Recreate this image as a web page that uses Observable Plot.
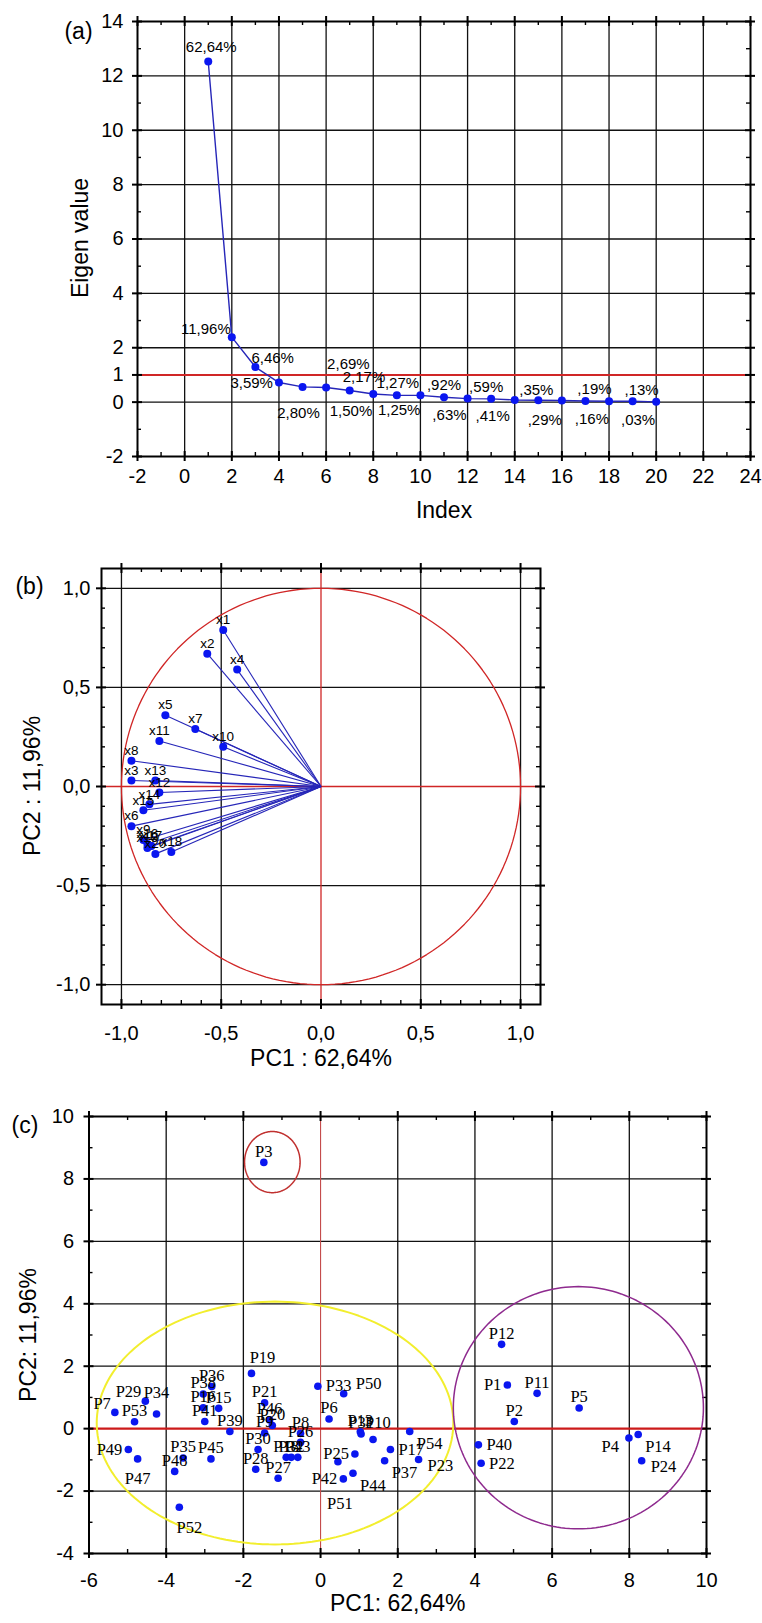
<!DOCTYPE html>
<html><head><meta charset="utf-8">
<script src="https://cdn.jsdelivr.net/npm/d3@7"></script>
<script src="https://cdn.jsdelivr.net/npm/@observablehq/plot@0.6"></script>
<style>
html,body{margin:0;padding:0;background:#fff;}
#wrap{position:relative;width:762px;height:1623px;overflow:hidden;background:#fff;}
</style></head><body><div id="wrap"></div>
<script>
// ================= DATA =================
// (a) scree plot
const componentIndex = [1,2,3,4,5,6,7,8,9,10,11,12,13,14,15,16,17,18,19,20];
const eigenValues = [12.53,2.39,1.29,0.72,0.56,0.54,0.43,0.30,0.25,0.25,0.18,0.13,0.12,0.08,0.07,0.06,0.04,0.03,0.03,0.01];
const varianceLabels = ["62,64%","11,96%","6,46%","3,59%","2,80%","2,69%","2,17%","1,50%","1,27%","1,25%",",92%",",63%",",59%",",41%",",35%",",29%",",19%",",16%",",13%",",03%"];
const screeXTicks = [-2,0,2,4,6,8,10,12,14,16,18,20,22,24];
const screeYTicks = [-2,0,1,2,4,6,8,10,12,14];
const kaiserLevel = [1];

// (b) loading plot
const variableNames = ["x1","x2","x3","x4","x5","x6","x7","x8","x9","x10","x11","x12","x13","x14","x15","x16","x17","x18","x19","x20"];
const loadingPC1 = [-0.49,-0.57,-0.95,-0.42,-0.78,-0.95,-0.63,-0.95,-0.89,-0.49,-0.81,-0.81,-0.83,-0.86,-0.89,-0.87,-0.85,-0.75,-0.87,-0.83];
const loadingPC2 = [0.79,0.67,0.03,0.59,0.36,-0.20,0.29,0.13,-0.27,0.20,0.23,-0.03,0.03,-0.09,-0.12,-0.29,-0.30,-0.33,-0.31,-0.34];
const loadingTicks = [-1,-0.5,0,0.5,1];

// (c) score plot
const sampleNames = ["P1","P2","P3","P4","P5","P6","P7","P8","P9","P10","P11","P12","P13","P14","P15","P16","P17","P18","P19","P20","P21","P22","P23","P24","P25","P26","P27","P28","P29","P30","P31","P32","P33","P34","P35","P36","P37","P38","P39","P40","P41","P42","P43","P44","P45","P46","P47","P48","P49","P50","P51","P52","P53","P54"];
const scorePC1 = [4.84,5.02,-1.47,7.99,6.70,0.22,-5.33,-0.52,-1.45,1.36,5.61,4.69,1.03,8.23,-2.64,-3.04,1.81,-0.89,-1.79,-1.25,-1.45,4.16,2.54,8.32,0.89,-0.52,-1.10,-1.68,-4.54,-1.62,1.05,-0.76,-0.07,-4.25,-3.56,-2.82,1.66,-3.04,-2.35,4.09,-3.00,0.59,-0.59,0.84,-2.84,-1.32,-4.74,-3.78,-4.98,0.60,0.45,-3.66,-4.82,2.31];
const scorePC2 = [1.40,0.23,8.53,-0.30,0.66,0.31,0.52,-0.15,-0.14,-0.35,1.13,2.70,-0.10,-0.19,0.65,0.67,-0.67,-0.92,1.77,0.10,0.83,-1.11,-0.99,-1.03,-0.81,-0.44,-1.59,-1.30,0.88,-0.67,-0.17,-0.92,1.36,0.47,-0.94,1.35,-1.03,1.11,-0.09,-0.52,0.23,-1.61,-0.92,-1.43,-0.97,0.28,-0.97,-1.37,-0.67,1.12,-1.06,-2.52,0.22,-0.09];
const scoreXTicks = [-6,-4,-2,0,2,4,6,8,10];
const scoreYTicks = [-4,-2,0,2,4,6,8,10];
// group ellipses (centre and semi-axes in PC units)
const groupCX = [-1.25,-1.18,6.68];
const groupCY = [8.54,0.18,0.67];
const groupRX = [0.72,4.62,3.24];
const groupRY = [0.98,3.89,3.88];

// ================= LAYOUT / STYLE (kept apart from data) =================
const W = 762;
const SANS = "'Liberation Sans', Arial, Helvetica, sans-serif";
const SERIF = "'Liberation Serif', 'Times New Roman', serif";
const DOT = "#0a16f0";
const LINE = "#2626b8";
const RED = "#d02626";
const GRID = "#111";
const groupColors = ["#c0302f","#f2ee2e","#8e2a8e"];

const screeLabelLayout = [[3,-14,"middle"],[-1,-8,"end"],[-4,-9,"start"],[-6,1,"end"],[-4,26,"middle"],[1,-23,"start"],[-7,-13,"start"],[-1,17,"end"],[1,-12,"middle"],[0,15,"end"],[0,-12,"middle"],[-1,17,"end"],[-5,-12,"middle"],[-5,16,"end"],[-2,-10,"middle"],[0,20,"end"],[9,-12,"middle"],[0,18,"end"],[9,-11,"middle"],[-1,18,"end"]];

const scoreLabelSide = ["W","N","N","SW","N","N","NW","N","N","NE2","N","N","N","SE","N","N","E","N","NNE","N","N","E","ES","ES","W","N","N","N","NW","N","N","N","E","N2","N","N","SE","N","N","E","N","W","N","SE","N","N","S","N","W","NE","S2","SSE","N","SE"];
const sideOffsets = {
  N:[0,-11,"middle"], N2:[0,-21,"middle"], NE:[12,-10,"start"], NE2:[-8,-17,"start"],
  NNE:[11,-16,"middle"], NW:[-4,-9,"end"], W:[-6,0,"end"], E:[8,0,"start"],
  ES:[9,6,"start"], SE:[7,12,"start"], SW:[-10,9,"end"], S:[0,20,"middle"],
  S2:[2,42,"middle"], SSE:[10,20,"middle"]
};

const wrap = document.getElementById("wrap");
function place(svg, top){ svg.style.position="absolute"; svg.style.left="0px"; svg.style.top=top+"px"; wrap.appendChild(svg); }
function vlabel(text, cx, cy, size){
  const d=document.createElement("div"); d.textContent=text;
  d.style.cssText=`position:absolute;left:${cx}px;top:${cy}px;transform:translate(-50%,-50%) rotate(-90deg);font-family:${SANS};font-size:${size}px;white-space:nowrap;color:#000;line-height:1;`;
  wrap.appendChild(d);
}
function frameTicks(xMaj, xMin, yMaj, yMin, iw, ih){
  const maj = {stroke:"#000", strokeWidth:2};
  const mn = {stroke:"#000", strokeWidth:1.4};
  return [
    Plot.tickX(xMaj,{...maj, insetTop: ih-5, insetBottom:-5}),
    Plot.tickX(xMaj,{...maj, insetTop:-5, insetBottom: ih-5}),
    Plot.tickY(yMaj,{...maj, insetLeft:-5, insetRight: iw-5}),
    Plot.tickY(yMaj,{...maj, insetLeft: iw-5, insetRight:-5}),
    Plot.tickX(xMin,{...mn, insetTop: ih-4}),
    Plot.tickX(xMin,{...mn, insetBottom: ih-4}),
    Plot.tickY(yMin,{...mn, insetRight: iw-4}),
    Plot.tickY(yMin,{...mn, insetLeft: iw-4})
  ];
}
const baseStyle = {fontFamily: SANS, fontSize:"20px", color:"#000", background:"transparent", overflow:"visible"};

// ================= PANEL (a) =================
{
  const m = {ml:137, mr:12, mt:21, mb:74, h:530};
  const iw = W-m.ml-m.mr, ih = m.h-m.mt-m.mb;
  const scree = componentIndex.map((k,i)=>({k, ev:eigenValues[i], pct:varianceLabels[i]}));
  const minorX = d3.range(-1,24,2);
  const minorY = d3.range(-1,14,2).filter(v=>v!==1);
  const svg = Plot.plot({
    width:W, height:m.h, marginLeft:m.ml, marginRight:m.mr, marginTop:m.mt, marginBottom:m.mb,
    style: baseStyle,
    x:{domain:[-2,24], ticks:screeXTicks, tickFormat:d=>String(d), tickSize:0, tickPadding:12, label:null},
    y:{domain:[-2,14], ticks:screeYTicks, tickFormat:d=>String(d), tickSize:0, tickPadding:14, label:null},
    marks:[
      Plot.ruleX(screeXTicks.filter(v=>v>-2&&v<24),{stroke:GRID, strokeWidth:1.3}),
      Plot.ruleY(screeYTicks.filter(v=>v>-2&&v<14&&v!==1),{stroke:GRID, strokeWidth:1.3}),
      Plot.ruleY(kaiserLevel,{stroke:RED, strokeWidth:2}),
      ...frameTicks(screeXTicks, minorX, screeYTicks, minorY, iw, ih),
      Plot.line(scree,{x:"k", y:"ev", stroke:LINE, strokeWidth:1.4}),
      Plot.dot(scree,{x:"k", y:"ev", r:4, fill:DOT}),
      ...scree.map((d,i)=>Plot.text([d],{x:"k", y:"ev", text:"pct", dx:screeLabelLayout[i][0], dy:screeLabelLayout[i][1], textAnchor:screeLabelLayout[i][2], fontSize:15, fill:"#000"})),
      Plot.frame({stroke:"#000", strokeWidth:2}),
      Plot.text(["Index"],{frameAnchor:"bottom", textAnchor:"middle", dy:61, fontSize:23, fill:"#000"}),
      Plot.text(["(a)"],{frameAnchor:"top-left", textAnchor:"middle", dx:-59, dy:1, fontSize:23, fill:"#000"})
    ]
  });
  place(svg, 0);
  vlabel("Eigen value", 80, 238, 23);
}

// ================= PANEL (b) =================
{
  const top = 530;
  const m = {ml:101, mr:222, mt:38, mb:86, h:560};
  const iw = W-m.ml-m.mr, ih = m.h-m.mt-m.mb;
  const loadings = variableNames.map((n,i)=>({name:n, pc1:loadingPC1[i], pc2:loadingPC2[i]}));
  const circle = d3.range(0, 361, 2).map(a=>({x:Math.cos(a*Math.PI/180), y:Math.sin(a*Math.PI/180)}));
  const minor = d3.range(-10,11).map(v=>v/10).filter(v=>Math.abs(v*2-Math.round(v*2))>1e-9);
  const fmt = d=>d.toFixed(1).replace(".",",");
  const svg = Plot.plot({
    width:W, height:m.h, marginLeft:m.ml, marginRight:m.mr, marginTop:m.mt, marginBottom:m.mb,
    style: baseStyle,
    x:{domain:[-1.1,1.1], ticks:loadingTicks, tickFormat:fmt, tickSize:0, tickPadding:21, label:null},
    y:{domain:[-1.1,1.1], ticks:loadingTicks, tickFormat:fmt, tickSize:0, tickPadding:11, label:null},
    marks:[
      Plot.ruleX(loadingTicks.filter(v=>v!==0),{stroke:GRID, strokeWidth:1.3}),
      Plot.ruleY(loadingTicks.filter(v=>v!==0),{stroke:GRID, strokeWidth:1.3}),
      Plot.ruleX([0],{stroke:RED, strokeWidth:1.3}),
      Plot.ruleY([0],{stroke:RED, strokeWidth:1.3}),
      Plot.line(circle,{x:"x", y:"y", stroke:RED, strokeWidth:1.3}),
      ...frameTicks(loadingTicks, minor, loadingTicks, minor, iw, ih),
      Plot.link(loadings,{x1:()=>0, y1:()=>0, x2:"pc1", y2:"pc2", stroke:LINE, strokeWidth:1.1}),
      Plot.dot(loadings,{x:"pc1", y:"pc2", r:4, fill:DOT}),
      Plot.text(loadings,{x:"pc1", y:"pc2", text:"name", dy:-10, fontSize:13.5, fill:"#000"}),
      Plot.frame({stroke:"#000", strokeWidth:2}),
      Plot.text(["PC1 : 62,64%"],{frameAnchor:"bottom", textAnchor:"middle", dy:61, fontSize:23, fill:"#000"}),
      Plot.text(["(b)"],{frameAnchor:"top-left", textAnchor:"middle", dx:-72, dy:9, fontSize:23, fill:"#000"})
    ]
  });
  place(svg, top);
  vlabel("PC2 : 11,96%", 32, 786, 23);
}

// ================= PANEL (c) =================
{
  const top = 1090;
  const m = {ml:88.5, mr:56, mt:26, mb:70, h:533};
  const iw = W-m.ml-m.mr, ih = m.h-m.mt-m.mb;
  const scores = sampleNames.map((n,i)=>({name:n, pc1:scorePC1[i], pc2:scorePC2[i], side:scoreLabelSide[i]}));
  const ellipses = groupCX.map((cx,g)=>d3.range(0,361,2).map(a=>({x:cx+groupRX[g]*Math.cos(a*Math.PI/180), y:groupCY[g]+groupRY[g]*Math.sin(a*Math.PI/180)})));
  const minorX = d3.range(-5,10,2);
  const minorY = d3.range(-3,10,2);
  const labelMarks = Object.keys(sideOffsets).map(k=>{
    const [dx,dy,anchor] = sideOffsets[k];
    return Plot.text(scores.filter(d=>d.side===k),{x:"pc1", y:"pc2", text:"name", dx, dy, textAnchor:anchor, fontFamily:SERIF, fontSize:16.5, fill:"#000"});
  });
  const svg = Plot.plot({
    width:W, height:m.h, marginLeft:m.ml, marginRight:m.mr, marginTop:m.mt, marginBottom:m.mb,
    style: baseStyle,
    x:{domain:[-6,10], ticks:scoreXTicks, tickFormat:d=>String(d), tickSize:0, tickPadding:19, label:null},
    y:{domain:[-4,10], ticks:scoreYTicks, tickFormat:d=>String(d), tickSize:0, tickPadding:15, label:null},
    marks:[
      Plot.ruleX(scoreXTicks.filter(v=>v>-6&&v<10&&v!==0),{stroke:GRID, strokeWidth:1.3}),
      Plot.ruleY(scoreYTicks.filter(v=>v>-4&&v<10&&v!==0),{stroke:GRID, strokeWidth:1.3}),
      Plot.ruleX([0],{stroke:"#c44a4a", strokeWidth:1.1}),
      Plot.ruleY([0],{stroke:"#cc1a1a", strokeWidth:2.2}),
      ...frameTicks(scoreXTicks, minorX, scoreYTicks, minorY, iw, ih),
      ...ellipses.map((pts,g)=>Plot.line(pts,{x:"x", y:"y", stroke:groupColors[g], strokeWidth:g===1?2:1.5})),
      Plot.dot(scores,{x:"pc1", y:"pc2", r:3.8, fill:DOT}),
      ...labelMarks,
      Plot.frame({stroke:"#000", strokeWidth:2}),
      Plot.text(["PC1: 62,64%"],{frameAnchor:"bottom", textAnchor:"middle", dy:57, fontSize:23, fill:"#000"}),
      Plot.text(["(c)"],{frameAnchor:"top-left", textAnchor:"middle", dx:-64, dy:0, fontSize:23, fill:"#000"})
    ]
  });
  place(svg, top);
  vlabel("PC2: 11,96%", 28, 1335, 23);
}
</script></body></html>
